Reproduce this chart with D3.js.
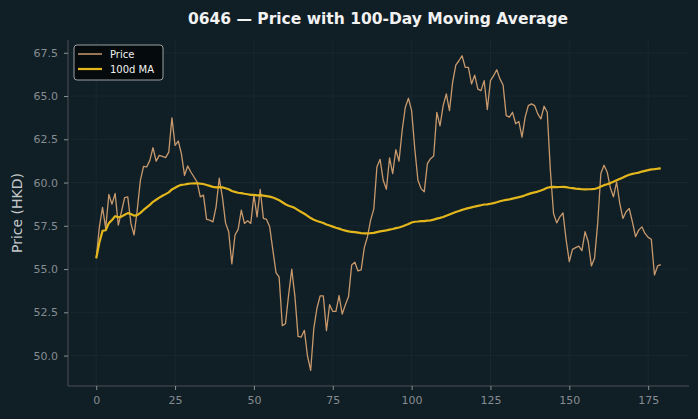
<!DOCTYPE html>
<html><head><meta charset="utf-8">
<script src="https://cdn.jsdelivr.net/npm/d3@7"></script>
<style>
html,body{margin:0;padding:0;background:#101f26;}
svg{display:block;font-family:"DejaVu Sans",sans-serif;}
</style></head>
<body><svg id="c" width="698" height="419"></svg>
<script>
const titleText = "0646 — Price with 100-Day Moving Average";
const yLabel = "Price (HKD)";
const seriesNames = ["Price", "100d MA"];
const maWindow = 100;
const xTicks = [0, 25, 50, 75, 100, 125, 150, 175];
const yTicks = [50, 52.5, 55, 57.5, 60, 62.5, 65, 67.5];
const price = [
55.62,57.44,58.56,57.35,59.31,58.75,59.37,57.54,58.31,59.13,
59.17,57.64,56.97,58.41,60.13,60.94,60.90,61.28,62.01,61.24,
61.57,61.51,61.44,61.76,63.74,62.15,62.40,61.67,60.42,60.96,
60.61,60.32,60.03,59.17,59.27,57.87,57.83,57.73,58.60,60.25,
59.17,57.67,57.16,55.30,56.97,57.29,58.41,57.64,57.79,57.64,
59.27,58.02,59.60,57.93,57.87,57.44,56.10,54.80,54.53,51.73,
51.84,53.51,54.99,53.41,51.11,51.07,51.46,49.96,49.15,51.59,
52.75,53.45,53.45,51.44,52.94,52.55,52.55,53.47,52.40,52.94,
53.41,55.24,55.39,54.89,54.95,56.24,56.87,57.83,58.46,60.90,
61.34,60.13,59.61,61.42,60.52,61.90,61.23,63.01,64.35,64.87,
64.16,61.96,60.13,59.65,59.46,61.09,61.38,61.53,64.06,63.28,
64.45,65.12,64.16,65.79,66.79,67.04,67.33,66.66,66.66,65.70,
66.21,65.40,65.31,65.89,64.22,65.89,66.18,66.52,65.99,65.64,
63.87,63.78,64.06,63.40,63.53,62.62,63.78,64.45,64.55,64.45,
63.97,63.68,64.41,64.06,60.70,58.21,57.67,58.02,58.25,56.68,
55.43,56.14,56.24,56.33,56.06,57.16,56.58,55.18,55.62,57.64,
60.52,61.00,60.61,59.70,59.17,60.03,58.79,57.93,58.31,58.50,
57.73,56.87,57.25,57.44,57.06,56.83,56.72,54.66,55.18,55.26
];
// 100-day rolling mean of the price (min 1 period)
const ma = price.map((_, i) => {
  const s = price.slice(Math.max(0, i - maWindow + 1), i + 1);
  return d3.mean(s);
});
const idx = price.map((_, i) => i);

const W = 698, H = 419;
const m = {l: 68, r: 698 - 689, t: 40, b: 419 - 386};
const svg = d3.select("#c");
svg.append("rect").attr("width", W).attr("height", H).attr("fill", "#101f26");

const n = price.length - 1;
const x = d3.scaleLinear().domain([-0.05 * n, n * 1.05]).range([m.l, W - m.r]);
const ymin = d3.min(price), ymax = d3.max(price), yr = ymax - ymin;
const y = d3.scaleLinear().domain([ymin - 0.05 * yr, ymax + 0.05 * yr]).range([H - m.b, m.t]);

const g = svg.append("g");
// grid
g.selectAll(".gx").data(xTicks).join("line")
  .attr("x1", d => x(d)).attr("x2", d => x(d)).attr("y1", m.t).attr("y2", H - m.b)
  .attr("stroke", "#1a2a32").attr("stroke-width", 0.8);
g.selectAll(".gy").data(yTicks).join("line")
  .attr("y1", d => y(d)).attr("y2", d => y(d)).attr("x1", m.l).attr("x2", W - m.r)
  .attr("stroke", "#1a2a32").attr("stroke-width", 0.8);

// axes
const xa = svg.append("g").attr("transform", `translate(0,${H - m.b})`)
  .call(d3.axisBottom(x).tickValues(xTicks).tickSize(4).tickPadding(6).tickFormat(d3.format("d")));
const ya = svg.append("g").attr("transform", `translate(${m.l},0)`)
  .call(d3.axisLeft(y).tickValues(yTicks).tickSize(4).tickPadding(6).tickFormat(d3.format(".1f")));
[xa, ya].forEach(a => {
  a.select(".domain").attr("stroke", "#4a4f52").attr("stroke-width", 1);
  a.selectAll(".tick line").attr("stroke", "#8a9094");
  a.selectAll(".tick text").attr("fill", "#868c90").style("font-size", "11px").style("font-family", "DejaVu Sans");
});
xa.select(".domain").attr("d", `M${m.l},0H${W - m.r}`);
ya.select(".domain").attr("d", `M0,${m.t}V${H - m.b}`);

// lines
const line = d3.line().x((d, i) => x(idx[i])).y(d => y(d));
svg.append("path").datum(price).attr("d", line).attr("fill", "none")
  .attr("stroke", "#c8996c").attr("stroke-width", 1.3).attr("stroke-linejoin", "round");
svg.append("path").datum(ma).attr("d", line).attr("fill", "none")
  .attr("stroke", "#e3b71c").attr("stroke-width", 2.2).attr("stroke-linejoin", "round");

// title & labels
svg.append("text").attr("x", 378).attr("y", 24).attr("text-anchor", "middle")
  .attr("fill", "#f2f2f2").style("font-size", "15.5px").style("font-weight", "bold").text(titleText);
svg.append("text").attr("transform", `translate(22,${(m.t + H - m.b) / 2}) rotate(-90)`)
  .attr("text-anchor", "middle").attr("fill", "#c3c7ca").style("font-size", "14px").text(yLabel);

// legend
const lg = svg.append("g").attr("transform", "translate(74,45)");
lg.append("rect").attr("width", 89).attr("height", 35).attr("rx", 3)
  .attr("fill", "#050a0c").attr("stroke", "#9aa0a4").attr("stroke-width", 1);
const colors = ["#c8996c", "#e3b71c"], widths = [1.5, 2.2];
seriesNames.forEach((s, i) => {
  const yy = 9 + i * 15;
  lg.append("line").attr("x1", 4).attr("x2", 28).attr("y1", yy).attr("y2", yy)
    .attr("stroke", colors[i]).attr("stroke-width", widths[i]);
  lg.append("text").attr("x", 36).attr("y", yy + 4).attr("fill", "#f0f0f0")
    .style("font-size", "10px").text(s);
});
</script></body></html>
